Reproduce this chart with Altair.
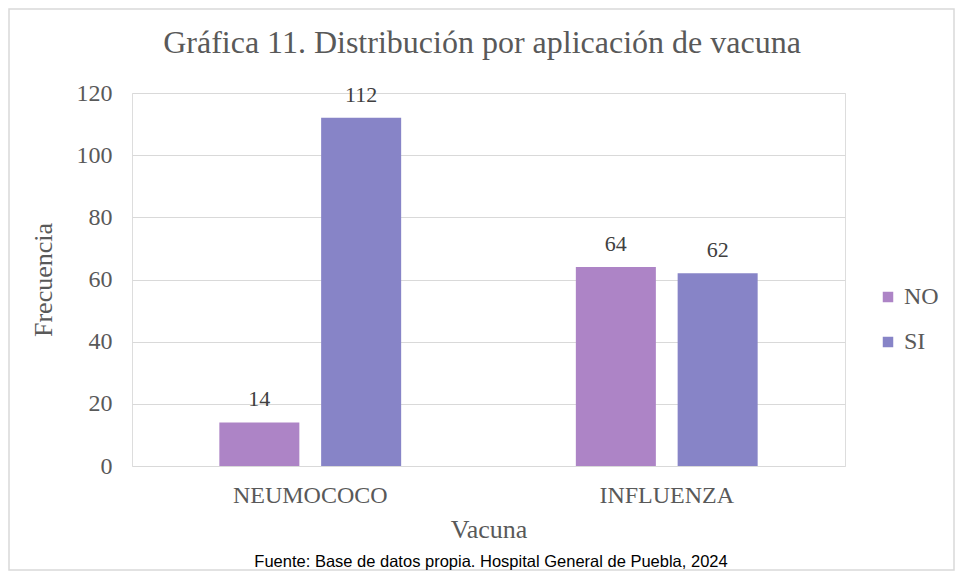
import altair as alt
import pandas as pd

vacunas = ["NEUMOCOCO", "INFLUENZA"]
respuestas = ["NO", "SI"]
no_vals = [14, 64]
si_vals = [112, 62]
y_ticks = [0, 20, 40, 60, 80, 100, 120]
colores = ["#AD84C6", "#8784C7"]
titulo = "Gráfica 11. Distribución por aplicación de vacuna"
fuente = "Fuente: Base de datos propia. Hospital General de Puebla, 2024"

rows = []
for i, v in enumerate(vacunas):
    rows.append({"Vacuna": v, "Respuesta": "NO", "Frecuencia": no_vals[i]})
    rows.append({"Vacuna": v, "Respuesta": "SI", "Frecuencia": si_vals[i]})
df = pd.DataFrame(rows)

SERIF = "Liberation Serif"
GREY = "#595959"

base = alt.Chart(df).encode(
    x=alt.X(
        "Vacuna:N",
        sort=vacunas,
        title="Vacuna",
        scale=alt.Scale(paddingInner=0.49, paddingOuter=0.245),
        axis=alt.Axis(
            labelAngle=0, labelFont=SERIF, labelFontSize=24, labelColor=GREY,
            labelPadding=17, ticks=False, domain=False,
            titleFont=SERIF, titleFontSize=26, titleFontWeight="normal",
            titleColor=GREY, titlePadding=9,
        ),
    ),
    xOffset=alt.XOffset("Respuesta:N", sort=respuestas,
                        scale=alt.Scale(paddingInner=0.214, paddingOuter=0)),
    y=alt.Y(
        "Frecuencia:Q",
        title="Frecuencia",
        scale=alt.Scale(domain=[0, 120], nice=False),
        axis=alt.Axis(
            values=y_ticks, labelFont=SERIF, labelFontSize=24, labelColor=GREY,
            labelPadding=20, ticks=False, domain=False, gridColor="#D9D9D9",
            gridWidth=1.2,
            titleFont=SERIF, titleFontSize=26, titleFontWeight="normal",
            titleColor=GREY, titlePadding=20,
        ),
    ),
)

bars = base.mark_bar().encode(
    color=alt.Color(
        "Respuesta:N",
        sort=respuestas,
        scale=alt.Scale(domain=respuestas, range=colores),
        legend=alt.Legend(
            title=None, orient="none", legendX=744, legendY=192,
            symbolType="square", symbolSize=110, symbolStrokeWidth=0,
            labelFont=SERIF, labelFontSize=24, labelColor=GREY,
            labelOffset=4, rowPadding=21,
        ),
    )
)

labels = base.mark_text(
    baseline="alphabetic", dy=-16, font=SERIF, fontSize=22, color="#404040"
).encode(text="Frecuencia:Q")

title_mark = alt.Chart(pd.DataFrame({"t": [titulo]})).mark_text(
    font=SERIF, fontSize=32, color=GREY, align="center", baseline="alphabetic"
).encode(x=alt.value(350), y=alt.value(-40), text="t:N")

src = alt.Chart(pd.DataFrame({"t": [fuente]})).mark_text(
    font="Liberation Sans", fontSize=16.5, color="#000000",
    align="center", baseline="alphabetic"
).encode(x=alt.value(359), y=alt.value(474), text="t:N")

border = alt.Chart(pd.DataFrame({"t": [0]})).mark_rect(
    fill=None, stroke="#D9D9D9", strokeWidth=1.5
).encode(x=alt.value(-123), x2=alt.value(822), y=alt.value(-84), y2=alt.value(477))

chart = alt.layer(border, bars, labels, title_mark, src).properties(
    width=713,
    height=373,
    autosize=alt.AutoSizeParams(type="none"),
    padding={"left": 124, "top": 85, "right": 110, "bottom": 105},
).configure_view(stroke=None).configure(
    background="white", font=SERIF
).configure_legend(labelFont=SERIF).configure_text(font=SERIF)

chart.save("out.html", embed_options={"renderer": "svg", "actions": False})
